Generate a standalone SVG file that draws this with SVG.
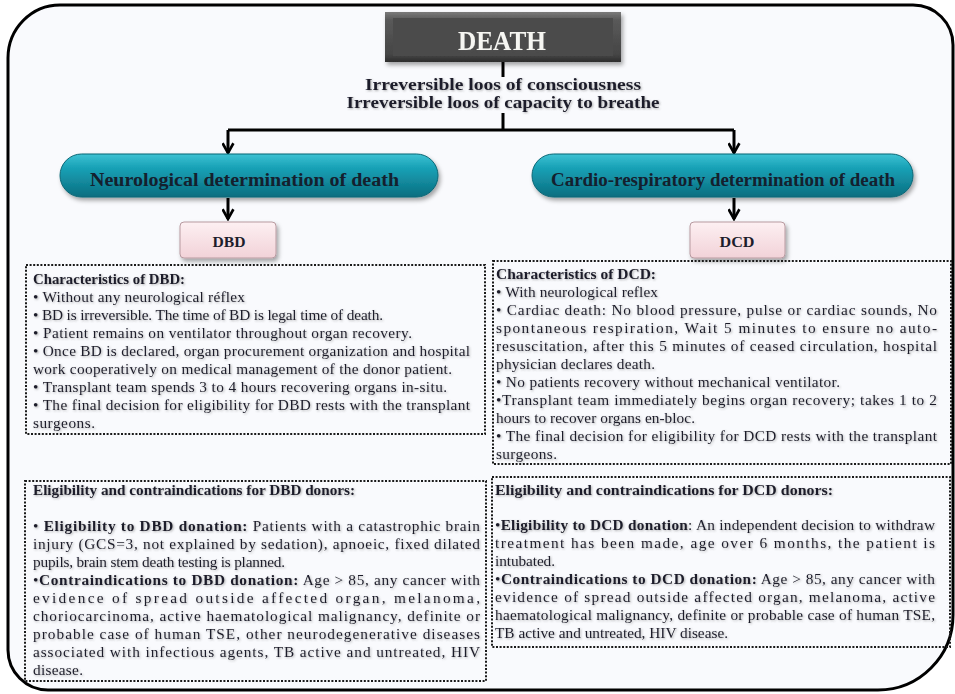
<svg xmlns="http://www.w3.org/2000/svg" width="955" height="694" viewBox="0 0 955 694">
<defs>
<linearGradient id="gDeath" x1="0" y1="0" x2="0" y2="1">
<stop offset="0" stop-color="#7a7a7a"/><stop offset="0.15" stop-color="#5a5a5a"/><stop offset="0.85" stop-color="#454545"/><stop offset="1" stop-color="#2e2e2e"/>
</linearGradient>
<linearGradient id="gTeal" x1="0" y1="0" x2="0" y2="1">
<stop offset="0" stop-color="#3fc2d3"/><stop offset="0.3" stop-color="#1aa3b8"/><stop offset="1" stop-color="#0a6e80"/>
</linearGradient>
<linearGradient id="gPink" x1="0" y1="0" x2="0" y2="1">
<stop offset="0" stop-color="#fdf0f2"/><stop offset="1" stop-color="#f2d2d8"/>
</linearGradient>
<filter id="shadow" x="-10%" y="-10%" width="130%" height="140%">
<feDropShadow dx="2" dy="3" stdDeviation="2" flood-color="#000" flood-opacity="0.35"/>
</filter>
<filter id="tshadow" x="-5%" y="-30%" width="110%" height="160%">
<feDropShadow dx="1" dy="1" stdDeviation="0.9" flood-color="#555" flood-opacity="0.45"/>
</filter>
<marker id="arrow" viewBox="0 0 12 12" refX="10" refY="6" markerWidth="13" markerHeight="13" markerUnits="userSpaceOnUse" orient="auto">
<path d="M1,1 L10,6 L1,11" fill="none" stroke="#000" stroke-width="2.4"/>
</marker>
</defs>
<style>
.frame{fill:#f9fafd;stroke:#000;stroke-width:3}
.dot{fill:none;stroke:#1a1a1a;stroke-width:2;stroke-dasharray:2 1.6}
.conn{fill:none;stroke:#000;stroke-width:3}
.t{font-family:"Liberation Serif","DejaVu Serif",serif;font-size:15.3px;fill:#1d1d2b}
.b{font-weight:bold}
.hd{font-family:"Liberation Serif","DejaVu Serif",serif;font-size:16px;font-weight:bold;fill:#1d1d2b}
.pill{font-family:"Liberation Serif","DejaVu Serif",serif;font-size:18px;font-weight:bold;fill:#14202e}
.death{font-family:"Liberation Serif","DejaVu Serif",serif;font-size:27px;font-weight:bold;fill:#f6f6f2}
.small{font-family:"Liberation Serif","DejaVu Serif",serif;font-size:15px;font-weight:bold;fill:#1d1d2b}
</style>
<rect x="0" y="0" width="955" height="694" fill="#ffffff"/>
<path id="frame" class="frame" d="M60,5 H913 A40,40 0 0 1 953,45 V615 A75,75 0 0 1 878,690 H48 A40,40 0 0 1 8,650 V58 A52,53 0 0 1 60,5 Z"/>

<g id="connectors">
<path class="conn" d="M503,62 V77"/>
<path class="conn" d="M503,113 V130 M228,130 H734"/>
<path class="conn" d="M228,130 V153" marker-end="url(#arrow)"/>
<path class="conn" d="M734,130 V153" marker-end="url(#arrow)"/>
<path class="conn" d="M228,198 V219" marker-end="url(#arrow)"/>
<path class="conn" d="M734,198 V219" marker-end="url(#arrow)"/>
</g>

<g id="node-death">
<rect x="385" y="12" width="236" height="50" fill="url(#gDeath)" filter="url(#shadow)"/>
<rect x="393" y="18" width="220" height="38" fill="#4b4b4b"/>
<text class="death" x="502" y="50" text-anchor="middle" textLength="88" lengthAdjust="spacingAndGlyphs" filter="url(#tshadow)">DEATH</text>
</g>

<g id="label-irreversible" filter="url(#tshadow)">
<text class="hd" x="503" y="90" text-anchor="middle" textLength="276" lengthAdjust="spacingAndGlyphs">Irreversible loos of consciousness</text>
<text class="hd" x="503" y="108" text-anchor="middle" textLength="313" lengthAdjust="spacingAndGlyphs">Irreversible loos of capacity to breathe</text>
</g>

<g id="node-neuro">
<rect x="60" y="154" width="378" height="43" rx="21.5" fill="url(#gTeal)" stroke="#0b6675" stroke-width="1" filter="url(#shadow)"/>
<text class="pill" x="244.5" y="186" text-anchor="middle" textLength="309" lengthAdjust="spacingAndGlyphs">Neurological determination of death</text>
</g>

<g id="node-cardio">
<rect x="532" y="154" width="381" height="43" rx="21.5" fill="url(#gTeal)" stroke="#0b6675" stroke-width="1" filter="url(#shadow)"/>
<text class="pill" x="723" y="186" text-anchor="middle" textLength="344" lengthAdjust="spacingAndGlyphs">Cardio-respiratory determination of death</text>
</g>

<g id="node-dbd">
<rect x="180" y="222" width="96" height="36" rx="4" fill="url(#gPink)" stroke="#b89aa0" stroke-width="1" filter="url(#shadow)"/>
<text class="small" x="229" y="247" text-anchor="middle" textLength="33" lengthAdjust="spacingAndGlyphs">DBD</text>
</g>

<g id="node-dcd">
<rect x="690" y="222" width="95" height="36" rx="4" fill="url(#gPink)" stroke="#b89aa0" stroke-width="1" filter="url(#shadow)"/>
<text class="small" x="737" y="247" text-anchor="middle" textLength="35" lengthAdjust="spacingAndGlyphs">DCD</text>
</g>

<g id="node-dbd-characteristics">
<rect class="dot" x="26" y="265" width="459" height="169"/>
<g filter="url(#tshadow)">
<text class="t b" x="33" y="284" textLength="152" lengthAdjust="spacingAndGlyphs">Characteristics of DBD:</text>
<text class="t" x="33" y="302" textLength="212" lengthAdjust="spacing">• Without any neurological réflex</text>
<text class="t" x="33" y="320" textLength="350" lengthAdjust="spacing">• BD is irreversible. The time of  BD is legal time of death.</text>
<text class="t" x="33" y="338" textLength="379" lengthAdjust="spacing">• Patient remains on ventilator throughout organ recovery.</text>
<text class="t" x="33" y="356" textLength="437" lengthAdjust="spacing">• Once BD is declared, organ procurement organization and hospital</text>
<text class="t" x="33" y="374" textLength="419" lengthAdjust="spacing">work cooperatively on medical management of the donor patient.</text>
<text class="t" x="33" y="392" textLength="414" lengthAdjust="spacing">•  Transplant team spends 3 to 4 hours recovering organs in-situ.</text>
<text class="t" x="33" y="410" textLength="437" lengthAdjust="spacing">• The final decision for eligibility for DBD rests with the transplant</text>
<text class="t" x="33" y="428" textLength="62" lengthAdjust="spacing">surgeons.</text>
</g>
</g>

<g id="node-dcd-characteristics">
<rect class="dot" x="493" y="261" width="458" height="203"/>
<g filter="url(#tshadow)">
<text class="t b" x="496" y="279" textLength="160" lengthAdjust="spacingAndGlyphs">Characteristics of DCD:</text>
<text class="t" x="496" y="297" textLength="162" lengthAdjust="spacing">• With neurological reflex</text>
<text class="t" x="496" y="315" textLength="441" lengthAdjust="spacing">• Cardiac death: No blood pressure, pulse or cardiac sounds, No</text>
<text class="t" x="496" y="333" textLength="441" lengthAdjust="spacing">spontaneous respiration, Wait 5 minutes to ensure no auto-</text>
<text class="t" x="496" y="351" textLength="441" lengthAdjust="spacing">resuscitation, after this 5 minutes of ceased circulation, hospital</text>
<text class="t" x="496" y="369" textLength="159" lengthAdjust="spacing">physician declares death.</text>
<text class="t" x="496" y="387" textLength="344" lengthAdjust="spacing">• No patients recovery without mechanical ventilator.</text>
<text class="t" x="496" y="405" textLength="441" lengthAdjust="spacing">•Transplant team immediately begins organ recovery; takes 1 to 2</text>
<text class="t" x="496" y="423" textLength="199" lengthAdjust="spacing">hours to recover organs en-bloc.</text>
<text class="t" x="496" y="441" textLength="441" lengthAdjust="spacing">• The final decision for eligibility for DCD rests with the transplant</text>
<text class="t" x="496" y="459" textLength="61" lengthAdjust="spacing">surgeons.</text>
</g>
</g>

<g id="node-dbd-eligibility">
<rect class="dot" x="25" y="481" width="461" height="200"/>
<g filter="url(#tshadow)">
<text class="t b" x="33" y="495" textLength="322" lengthAdjust="spacingAndGlyphs">Eligibility and contraindications for DBD donors:</text>
<text class="t" x="33" y="531" textLength="447" lengthAdjust="spacing">• <tspan class="b">Eligibility to DBD donation:</tspan> Patients with a catastrophic brain</text>
<text class="t" x="33" y="549" textLength="447" lengthAdjust="spacing">injury (GCS=3, not explained by sedation), apnoeic, fixed dilated</text>
<text class="t" x="33" y="567" textLength="252" lengthAdjust="spacing">pupils, brain stem death testing is planned.</text>
<text class="t" x="33" y="585" textLength="447" lengthAdjust="spacing">•<tspan class="b">Contraindications to DBD donation:</tspan>  Age &gt; 85, any cancer with</text>
<text class="t" x="33" y="603" textLength="447" lengthAdjust="spacing">evidence of spread outside affected organ, melanoma,</text>
<text class="t" x="33" y="621" textLength="447" lengthAdjust="spacing">choriocarcinoma, active haematological malignancy, definite or</text>
<text class="t" x="33" y="639" textLength="447" lengthAdjust="spacing">probable case of human TSE, other neurodegenerative diseases</text>
<text class="t" x="33" y="657" textLength="447" lengthAdjust="spacing">associated with infectious agents, TB active and untreated,  HIV</text>
<text class="t" x="33" y="675" textLength="50" lengthAdjust="spacing">disease.</text>
</g>
</g>

<g id="node-dcd-eligibility">
<rect class="dot" x="492" y="477" width="458" height="170"/>
<g filter="url(#tshadow)">
<text class="t b" x="495" y="495" textLength="338" lengthAdjust="spacingAndGlyphs">Eligibility and contraindications for DCD donors:</text>
<text class="t" x="495" y="530" textLength="440" lengthAdjust="spacing">•<tspan class="b">Eligibility to DCD donation</tspan>: An independent decision to withdraw</text>
<text class="t" x="495" y="548" textLength="440" lengthAdjust="spacing">treatment has been made,  age over 6 months, the patient is</text>
<text class="t" x="495" y="566" textLength="60" lengthAdjust="spacing">intubated.</text>
<text class="t" x="495" y="584" textLength="440" lengthAdjust="spacing">•<tspan class="b">Contraindications to DCD donation:</tspan>  Age &gt; 85, any cancer with</text>
<text class="t" x="495" y="602" textLength="440" lengthAdjust="spacing">evidence of spread outside affected organ, melanoma, active</text>
<text class="t" x="495" y="620" textLength="440" lengthAdjust="spacing">haematological malignancy, definite or probable case of human TSE,</text>
<text class="t" x="495" y="638" textLength="233" lengthAdjust="spacing">TB active and untreated, HIV disease.</text>
</g>
</g>
</svg>
